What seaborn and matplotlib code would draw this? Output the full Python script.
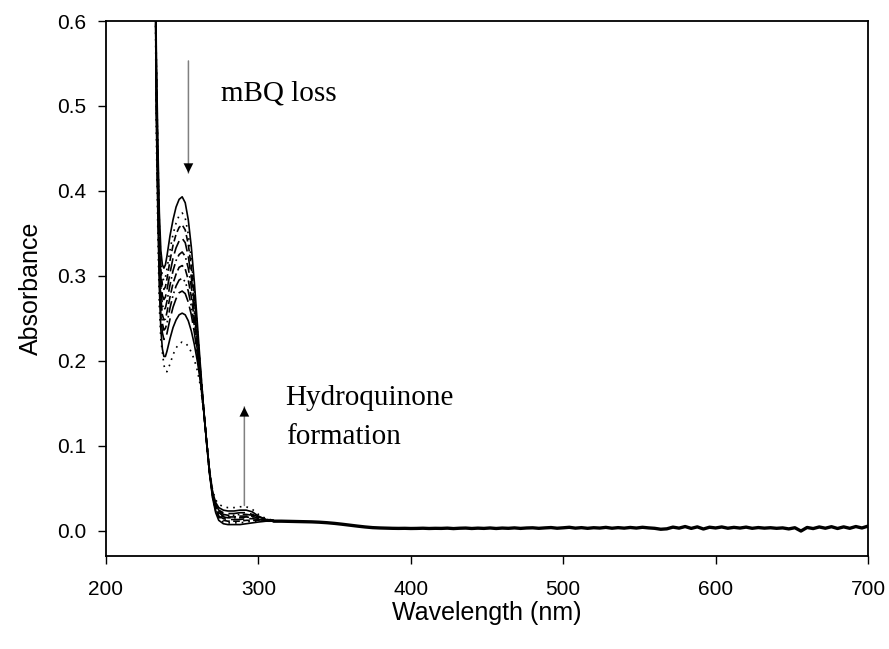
import numpy as np
import pandas as pd
import matplotlib
matplotlib.use("Agg")
import matplotlib.pyplot as plt
import seaborn as sns

# Wavelength grid (nm) for the band region of each scan
band_wl = [231, 233, 234, 235, 236, 237, 238, 239, 240, 242, 244, 246, 248, 250,
           252, 254, 256, 258, 260, 262, 264, 266, 268, 270, 272, 274, 277, 280,
           284, 288, 292, 296, 300, 305, 310]

# Absorbance of successive scans over band_wl (mBQ band decaying, hydroquinone growing)
scan_0 = [1.0, 0.570, 0.460, 0.375, 0.330, 0.313, 0.309, 0.313, 0.323, 0.347, 0.366, 0.381, 0.390, 0.393,
          0.386, 0.366, 0.334, 0.292, 0.243, 0.193, 0.146, 0.104, 0.066, 0.038, 0.021, 0.012, 0.008, 0.007,
          0.007, 0.007, 0.008, 0.009, 0.010, 0.011, 0.011]
scan_1 = [1.0, 0.559, 0.448, 0.363, 0.317, 0.299, 0.294, 0.298, 0.308, 0.330, 0.349, 0.362, 0.371, 0.374,
          0.368, 0.349, 0.320, 0.282, 0.237, 0.190, 0.146, 0.104, 0.066, 0.039, 0.023, 0.014, 0.010, 0.009,
          0.009, 0.009, 0.010, 0.011, 0.011, 0.011, 0.011]
scan_2 = [1.0, 0.551, 0.440, 0.354, 0.308, 0.289, 0.284, 0.287, 0.296, 0.318, 0.336, 0.349, 0.357, 0.360,
          0.354, 0.337, 0.310, 0.274, 0.232, 0.189, 0.145, 0.104, 0.067, 0.040, 0.024, 0.016, 0.012, 0.011,
          0.011, 0.011, 0.012, 0.012, 0.012, 0.012, 0.011]
scan_3 = [1.0, 0.542, 0.430, 0.344, 0.297, 0.277, 0.272, 0.275, 0.283, 0.303, 0.321, 0.333, 0.341, 0.344,
          0.339, 0.323, 0.298, 0.266, 0.227, 0.186, 0.145, 0.105, 0.067, 0.041, 0.025, 0.017, 0.014, 0.013,
          0.013, 0.013, 0.014, 0.014, 0.013, 0.012, 0.011]
scan_4 = [1.0, 0.533, 0.420, 0.333, 0.286, 0.266, 0.260, 0.262, 0.270, 0.289, 0.306, 0.318, 0.325, 0.328,
          0.323, 0.309, 0.287, 0.257, 0.222, 0.184, 0.144, 0.105, 0.068, 0.041, 0.027, 0.019, 0.016, 0.015,
          0.015, 0.015, 0.016, 0.015, 0.013, 0.012, 0.011]
scan_5 = [1.0, 0.524, 0.410, 0.323, 0.275, 0.254, 0.248, 0.249, 0.257, 0.275, 0.291, 0.302, 0.310, 0.312,
          0.308, 0.295, 0.275, 0.249, 0.217, 0.182, 0.144, 0.105, 0.068, 0.042, 0.028, 0.021, 0.017, 0.016,
          0.016, 0.017, 0.017, 0.017, 0.014, 0.012, 0.011]
scan_6 = [1.0, 0.515, 0.401, 0.313, 0.265, 0.244, 0.236, 0.238, 0.244, 0.262, 0.277, 0.288, 0.295, 0.297,
          0.293, 0.282, 0.264, 0.241, 0.212, 0.180, 0.144, 0.105, 0.068, 0.043, 0.029, 0.023, 0.019, 0.018,
          0.018, 0.019, 0.019, 0.018, 0.015, 0.013, 0.012]
scan_7 = [1.0, 0.506, 0.392, 0.304, 0.254, 0.233, 0.225, 0.226, 0.232, 0.249, 0.263, 0.273, 0.280, 0.282,
          0.279, 0.269, 0.254, 0.233, 0.207, 0.178, 0.143, 0.105, 0.069, 0.044, 0.031, 0.024, 0.021, 0.020,
          0.020, 0.021, 0.021, 0.019, 0.016, 0.013, 0.012]
scan_8 = [1.0, 0.492, 0.376, 0.287, 0.237, 0.214, 0.205, 0.205, 0.211, 0.226, 0.239, 0.248, 0.254, 0.256,
          0.254, 0.247, 0.235, 0.219, 0.199, 0.175, 0.143, 0.106, 0.069, 0.045, 0.033, 0.027, 0.024, 0.023,
          0.023, 0.024, 0.024, 0.022, 0.017, 0.013, 0.012]
scan_9 = [1.0, 0.472, 0.356, 0.265, 0.225, 0.210, 0.195, 0.188, 0.187, 0.196, 0.207, 0.215, 0.220, 0.222,
          0.221, 0.217, 0.210, 0.201, 0.188, 0.170, 0.142, 0.106, 0.070, 0.047, 0.036, 0.031, 0.028, 0.027,
          0.027, 0.028, 0.028, 0.025, 0.019, 0.014, 0.012]

scans = [scan_0, scan_1, scan_2, scan_3, scan_4, scan_5, scan_6, scan_7, scan_8, scan_9]
scan_dashes = ["-", (0, (1, 3)), (0, (4, 2)), (0, (8, 3)), (0, (6, 2, 1, 2)),
               (0, (5, 2)), (0, (7, 2, 1, 2, 1, 2)), (0, (10, 3)), "-", (0, (1, 3))]

# Common baseline shared by all scans beyond 310 nm
mid_wl = [310, 315, 320, 325, 330, 335, 340, 345, 350, 355, 360, 365, 370, 375]
mid_abs = [0.011, 0.011, 0.0108, 0.0106, 0.0104, 0.0102, 0.0098, 0.0092, 0.0084, 0.0074,
           0.0063, 0.0052, 0.0042, 0.0034]
tail_abs = [0.0030, 0.0028, 0.0026, 0.0025, 0.0026, 0.0024, 0.0025, 0.0027, 0.0024, 0.0026,
            0.0025, 0.0028, 0.0023, 0.0027, 0.0029, 0.0024, 0.0028, 0.0025, 0.0030, 0.0024,
            0.0029, 0.0026, 0.0031, 0.0025, 0.0030, 0.0032, 0.0026, 0.0031, 0.0035, 0.0027,
            0.0032, 0.0038, 0.0028, 0.0034, 0.0026, 0.0033, 0.0029, 0.0037, 0.0027, 0.0034,
            0.0028, 0.0036, 0.0029, 0.0038, 0.0031, 0.0026, 0.0015, 0.0020, 0.0040, 0.0028,
            0.0047, 0.0025, 0.0043, 0.0018, 0.0039, 0.0030, 0.0042, 0.0027, 0.0037, 0.0029,
            0.0040, 0.0026, 0.0035, 0.0028, 0.0033, 0.0026, 0.0031, 0.0019, 0.0033, -0.0006,
            0.0036, 0.0023, 0.0042, 0.0027, 0.0045, 0.0024, 0.0043, 0.0026, 0.0047, 0.0030,
            0.0052]
tail_wl = list(np.arange(380, 380 + 4 * len(tail_abs), 4))

base_wl = mid_wl + tail_wl
base_abs = mid_abs + tail_abs

sns.set_theme(style="ticks")
plt.rcParams["font.family"] = ["Liberation Sans", "DejaVu Sans"]

fig = plt.figure(figsize=(8.89, 6.49), dpi=100)
ax = fig.add_axes([0.1192, 0.1433, 0.8572, 0.8243])

for vals, ls in zip(scans, scan_dashes):
    df = pd.DataFrame({"wl": band_wl, "A": vals})
    sns.lineplot(data=df, x="wl", y="A", ax=ax, color="black", linewidth=1.2,
                 linestyle=ls, estimator=None, sort=False)

df_base = pd.DataFrame({"wl": base_wl, "A": base_abs})
sns.lineplot(data=df_base, x="wl", y="A", ax=ax, color="black", linewidth=2.4,
             estimator=None, sort=False)

ax.set_xlim(200, 700)
ax.set_ylim(-0.03, 0.6)
ax.set_xticks([200, 300, 400, 500, 600, 700])
ax.set_yticks([0.0, 0.1, 0.2, 0.3, 0.4, 0.5, 0.6])
ax.set_yticklabels([f"{v:.1f}" for v in [0.0, 0.1, 0.2, 0.3, 0.4, 0.5, 0.6]])
ax.tick_params(axis="both", which="both", direction="out", length=6, width=1,
               labelsize=15, colors="black", top=False, right=False)
ax.tick_params(axis="x", pad=11)
ax.tick_params(axis="y", pad=8)
for side in ["left", "right", "top", "bottom"]:
    ax.spines[side].set_visible(True)
    ax.spines[side].set_color("black")
    ax.spines[side].set_linewidth(1.3)

ax.set_xlabel("Wavelength (nm)", fontsize=18, labelpad=2, color="black")
ax.set_ylabel("Absorbance", fontsize=18, labelpad=10, color="black")

serif = ["Liberation Serif", "DejaVu Serif"]
ax.text(275.8, 0.506, "mBQ loss", fontsize=21, family=serif, color="black")
ax.text(317.9, 0.1476, "Hydroquinone", fontsize=21, family=serif, color="black")
ax.text(317.9, 0.1024, "formation", fontsize=21, family=serif, color="black")

# Annotation arrows: grey shaft with a black head
def arrow(x, y0, y1):
    ax.annotate("", xy=(x, y1), xytext=(x, y0),
                arrowprops=dict(arrowstyle="-", color="#808080", lw=1.1, shrinkA=0, shrinkB=0))
    back = y0 + (y1 - y0) * 0.9
    ax.annotate("", xy=(x, y1), xytext=(x, back),
                arrowprops=dict(arrowstyle="-|>,head_length=0.5,head_width=0.25",
                                mutation_scale=14, color="black", lw=0,
                                shrinkA=0, shrinkB=0))

arrow(254.1, 0.553, 0.421)
arrow(290.8, 0.0295, 0.1456)

fig.savefig("out.png", dpi=100)
